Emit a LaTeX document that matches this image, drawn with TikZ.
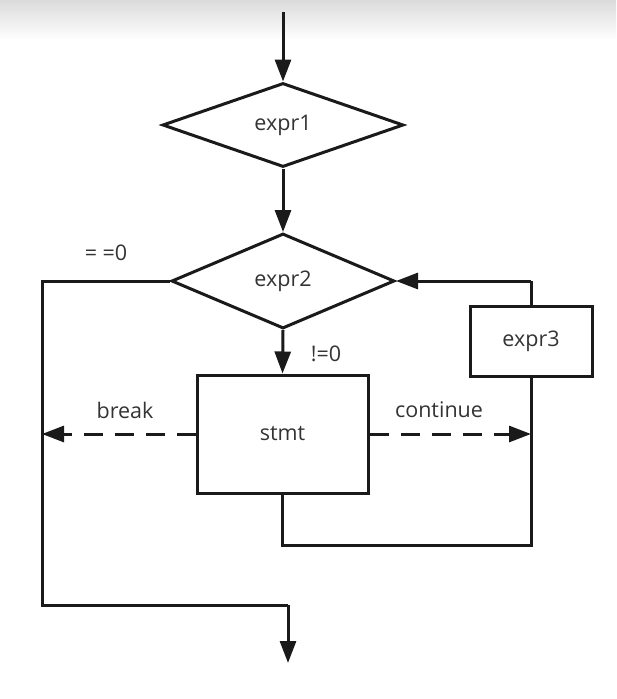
\documentclass[tikz,border=0pt]{standalone}
\usepackage{fontspec}
\setmainfont{Open Sans}
\usetikzlibrary{shapes.geometric,arrows.meta}
\definecolor{txt}{HTML}{333333}
\definecolor{ln}{HTML}{1A1A1A}
\begin{document}
\begin{tikzpicture}[x=1pt,y=-1pt,
  every node/.style={font=\fontsize{21.5}{24}\selectfont, text=txt},
  dec/.style={diamond, draw=ln, line width=3pt, inner sep=0pt},
  box/.style={rectangle, draw=ln, line width=3pt, inner sep=0pt},
  conn/.style={draw=ln, line width=3pt},
  arr/.style={conn, -{Triangle[length=22pt,width=16pt]}},
  dsh/.style={conn, dash pattern=on 19pt off 12pt, -{Triangle[length=22pt,width=16pt]}},
  lbl/.style={inner sep=0pt}
]
\useasboundingbox (0,0) rectangle (616,699);
\shade[top color=black!14, bottom color=white] (0,0) rectangle (616,40);

\node[dec, minimum width=241pt, minimum height=84pt] (e1) at (283,125) {expr1};
\node[dec, minimum width=223pt, minimum height=95pt] (e2) at (283,281) {expr2};
\node[box, minimum width=171pt, minimum height=118pt] (st) at (282.5,434) {stmt};
\node[box, minimum width=122pt, minimum height=70pt] (e3) at (531,341) {expr3};

\coordinate (top) at (283,12);
\coordinate (lt) at (42,281);
\coordinate (lb) at (42,605);
\coordinate (bb) at (288,605);
\coordinate (end) at (288,663);
\coordinate (bk) at (42,434);
\coordinate (ct) at (531,434);
\coordinate (sb) at (282.5,545);
\coordinate (rb) at (531,545);
\coordinate (rt) at (531,281);

\draw[arr] (top) -- (e1.north);
\draw[arr] (e1.south) -- (e2.north);
\draw[conn] (e2.west) -- (lt) -- (lb) -- (bb);
\draw[arr] (bb) -- (end);
\draw[arr] (e2.south) -- (st.north);
\draw[dsh] (st.west) -- (bk);
\draw[dsh] (st.east) -- (ct);
\draw[conn] (st.south) -- (sb) -- (rb) -- (e3.south);
\draw[conn] (e3.north) -- (rt);
\draw[arr] (rt) -- (e2.east);

\node[lbl] (l0) at (106,253) {= =0};
\node[lbl] (l1) at (326,354) {!=0};
\node[lbl] (l2) at (125,410) {break};
\node[lbl] (l3) at (439,410) {continue};
\end{tikzpicture}
\end{document}
